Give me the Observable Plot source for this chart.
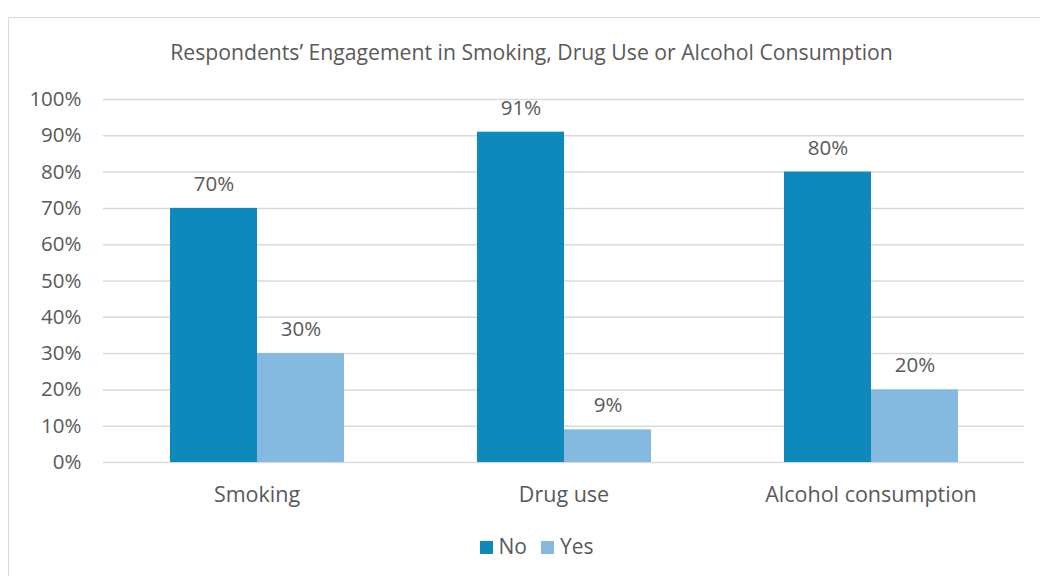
<!DOCTYPE html>
<html>
<head>
<meta charset="utf-8">
<script src="https://cdn.jsdelivr.net/npm/d3@7"></script>
<script src="https://cdn.jsdelivr.net/npm/@observablehq/plot@0.6"></script>
<style>
  html, body { margin: 0; padding: 0; background: #fff; overflow: hidden; }
  #wrap { position: relative; width: 1040px; height: 576px; font-family: "Open Sans", sans-serif; color: #595959; overflow: hidden; }
  #frame { position: absolute; left: 8px; top: 17px; width: 1100px; height: 700px; border: 1.5px solid #d9d9d9; box-sizing: border-box; }
  #title { position: absolute; top: 38px; left: 0; width: 1063px; text-align: center; font-size: 21.2px; line-height: 28px; }
  #chart { position: absolute; left: 0; top: 0; }
  #legend { position: absolute; top: 532px; left: 0; width: 1073px; text-align: center; font-size: 21px; line-height: 28px; }
  #legend span.sw { display: inline-block; width: 13px; height: 13px; margin-right: 6px; vertical-align: 0px; }
  #legend span.item { margin: 0 7px; }
</style>
</head>
<body>
<div id="wrap">
  <div id="frame"></div>
  <div id="chart"></div>
  <div id="title">Respondents’ Engagement in Smoking, Drug Use or Alcohol Consumption</div>
  <div id="legend"></div>
</div>
<script>
const categories = ["Smoking", "Drug use", "Alcohol consumption"];
const series = ["No", "Yes"];
const noValues = [70, 91, 80];
const yesValues = [30, 9, 20];
const colors = ["#0e89bb", "#84b9e0"];
const yTicks = [0, 10, 20, 30, 40, 50, 60, 70, 80, 90, 100];

const data = [];
categories.forEach((c, i) => {
  data.push({category: c, series: "No", value: noValues[i]});
  data.push({category: c, series: "Yes", value: yesValues[i]});
});

const chart = Plot.plot({
  width: 1040,
  height: 576,
  marginTop: 99,
  marginBottom: 114,
  marginLeft: 102,
  marginRight: 15,
  style: {fontFamily: "Open Sans, sans-serif", color: "#595959", background: "transparent"},
  fx: {domain: categories, padding: 0, label: null, axis: null},
  x: {domain: series, paddingInner: 0, paddingOuter: 0.748, axis: null},
  y: {domain: [0, 100], label: null, axis: null},
  color: {domain: series, range: colors},
  marks: [
    Plot.gridY(yTicks, {stroke: "#d9d9d9", strokeWidth: 1.5, strokeOpacity: 1}),
    Plot.barY(data, {fx: "category", x: "series", y: "value", fill: "series"}),
    Plot.text(data, {fx: "category", x: "series", y: "value", text: d => d.value + "%", dy: -24, fontSize: 20.5, fill: "#595959"}),
    Plot.axisY({ticks: yTicks, tickFormat: d => d + "%", tickSize: 0, tickPadding: 22, fontSize: 20.5, label: null}),
    Plot.axisFx({anchor: "bottom", tickSize: 0, tickPadding: 24, fontSize: 21.5, label: null})
  ]
});
document.getElementById("chart").appendChild(chart);

const legend = document.getElementById("legend");
series.forEach((s, i) => {
  const item = document.createElement("span");
  item.className = "item";
  const sw = document.createElement("span");
  sw.className = "sw";
  sw.style.background = colors[i];
  item.appendChild(sw);
  item.appendChild(document.createTextNode(s));
  legend.appendChild(item);
});
</script>
</body>
</html>
